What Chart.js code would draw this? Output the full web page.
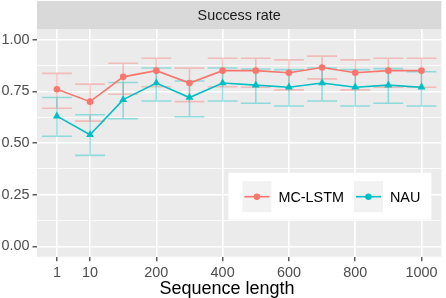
<!DOCTYPE html>
<html lang="en">
<head>
    <meta charset="UTF-8">
    <title>Success rate</title>
    <script src="https://cdn.jsdelivr.net/npm/chart.js"></script>
    <style>body { margin: 0; background: #fff; }</style>
</head>
<body>
    <canvas id="successChart" width="446" height="298"></canvas>
    <script>
        // sequence lengths (discrete x positions) and the ones that get a tick label
        const seqLengths = ['1', '10', '100', '200', '300', '400', '500', '600', '700', '800', '900', '1000'];
        const xTickLabels = ['1', '10', '200', '400', '600', '800', '1000'];
        const yTicks = [0, 0.125, 0.25, 0.375, 0.5, 0.625, 0.75, 0.875, 1];

        const mcMean = [0.76, 0.70, 0.82, 0.85, 0.79, 0.85, 0.85, 0.84, 0.865, 0.84, 0.85, 0.85];
        const mcLow  = [0.668, 0.606, 0.736, 0.772, 0.70, 0.772, 0.77, 0.757, 0.81, 0.757, 0.77, 0.77];
        const mcHigh = [0.837, 0.785, 0.886, 0.91, 0.862, 0.91, 0.91, 0.902, 0.92, 0.902, 0.91, 0.91];

        const nauMean = [0.63, 0.54, 0.71, 0.79, 0.72, 0.79, 0.78, 0.77, 0.79, 0.77, 0.78, 0.77];
        const nauLow  = [0.533, 0.44, 0.617, 0.703, 0.627, 0.703, 0.692, 0.679, 0.703, 0.679, 0.692, 0.679];
        const nauHigh = [0.72, 0.637, 0.793, 0.863, 0.80, 0.863, 0.858, 0.855, 0.863, 0.855, 0.86, 0.845];

        const FONT = '"Liberation Sans", Arial, sans-serif';
        const toPoints = values => values.map((v, i) => ({ x: i, y: v }));
        const isMajor = v => Math.abs(v * 4 - Math.round(v * 4)) < 1e-6;

        // grey panel + facet strip, like ggplot
        const ggplotPanel = {
            id: 'ggplotPanel',
            beforeDraw(chart) {
                const { ctx, chartArea: a } = chart;
                ctx.save();
                ctx.fillStyle = '#fff';
                ctx.fillRect(0, 0, chart.width, chart.height);
                ctx.fillStyle = '#EBEBEB';
                ctx.fillRect(a.left, a.top, a.right - a.left, a.bottom - a.top);
                ctx.fillStyle = '#D9D9D9';
                ctx.fillRect(a.left, 1, a.right - a.left, a.top - 1);
                ctx.fillStyle = '#1A1A1A';
                ctx.font = '14.4px ' + FONT;
                ctx.textAlign = 'center';
                ctx.textBaseline = 'middle';
                ctx.fillText('Success rate', (a.left + a.right) / 2, (1 + a.top) / 2 + 1);
                ctx.fillStyle = '#000';
                ctx.font = '18px ' + FONT;
                ctx.textBaseline = 'alphabetic';
                ctx.fillText('Sequence length', 227, 294);
                ctx.restore();
            }
        };

        const errorBars = {
            id: 'errorBars',
            beforeDatasetsDraw(chart) {
                const { ctx, scales: { x, y } } = chart;
                const half = x.getPixelForValue(0.45) - x.getPixelForValue(0);
                ctx.save();
                ctx.lineWidth = 1.6;
                chart.data.datasets.forEach(ds => {
                    ctx.strokeStyle = ds.errorColor;
                    ctx.beginPath();
                    ds.low.forEach((lo, i) => {
                        const px = x.getPixelForValue(i);
                        const yl = y.getPixelForValue(lo);
                        const yh = y.getPixelForValue(ds.high[i]);
                        ctx.moveTo(px - half, yh); ctx.lineTo(px + half, yh);
                        ctx.moveTo(px, yh); ctx.lineTo(px, yl);
                        ctx.moveTo(px - half, yl); ctx.lineTo(px + half, yl);
                    });
                    ctx.stroke();
                });
                ctx.restore();
            }
        };

        const insideLegend = {
            id: 'insideLegend',
            afterDraw(chart) {
                const { ctx, chartArea: a } = chart;
                const boxR = a.right - 10, boxB = a.bottom - 37;
                const boxL = boxR - 203, boxT = boxB - 47;
                ctx.save();
                ctx.fillStyle = '#fff';
                ctx.fillRect(boxL, boxT, boxR - boxL, boxB - boxT);
                ctx.font = '14.4px ' + FONT;
                ctx.textBaseline = 'middle';
                ctx.textAlign = 'left';
                const kw = 29, kh = 31, ky = boxT + 8.5;
                let kx = boxL + 14;
                chart.data.datasets.forEach(ds => {
                    ctx.fillStyle = '#F2F2F2';
                    ctx.fillRect(kx, ky, kw, kh);
                    ctx.strokeStyle = ds.borderColor;
                    ctx.lineWidth = 1.6;
                    ctx.beginPath();
                    ctx.moveTo(kx + 2, ky + kh / 2);
                    ctx.lineTo(kx + kw - 2, ky + kh / 2);
                    ctx.stroke();
                    ctx.fillStyle = ds.borderColor;
                    ctx.beginPath();
                    ctx.arc(kx + kw / 2, ky + kh / 2, 3.2, 0, Math.PI * 2);
                    ctx.fill();
                    ctx.fillStyle = '#000';
                    ctx.fillText(ds.label, kx + kw + 7, ky + kh / 2 + 1);
                    kx += kw + 7 + ctx.measureText(ds.label).width + 10;
                });
                ctx.restore();
            }
        };

        const ctx = document.getElementById('successChart').getContext('2d');
        new Chart(ctx, {
            type: 'line',
            data: {
                datasets: [{
                    label: 'MC-LSTM',
                    data: toPoints(mcMean),
                    low: mcLow,
                    high: mcHigh,
                    borderColor: '#F8766D',
                    backgroundColor: '#F8766D',
                    errorColor: 'rgba(248, 118, 109, 0.4)',
                    pointStyle: 'circle',
                    pointRadius: 3.3
                }, {
                    label: 'NAU',
                    data: toPoints(nauMean),
                    low: nauLow,
                    high: nauHigh,
                    borderColor: '#00BFC4',
                    backgroundColor: '#00BFC4',
                    errorColor: 'rgba(0, 191, 196, 0.4)',
                    pointStyle: 'triangle',
                    pointRadius: 4.6
                }]
            },
            options: {
                responsive: false,
                animation: false,
                layout: { padding: { top: 29.3, right: 1, left: 0, bottom: 0 } },
                elements: {
                    line: { borderWidth: 1.6, tension: 0 },
                    point: { borderWidth: 0, hoverRadius: 4 }
                },
                scales: {
                    x: {
                        type: 'linear',
                        min: -0.6,
                        max: seqLengths.length - 0.4,
                        afterBuildTicks: s => { s.ticks = xTickLabels.map(l => ({ value: seqLengths.indexOf(l) })); },
                        afterFit: s => { s.height = 41.3; },
                        border: { display: false },
                        grid: { color: '#fff', lineWidth: 1.6, tickColor: '#333', tickLength: 4.5, tickWidth: 1.2 },
                        ticks: {
                            padding: 3,
                            color: '#4D4D4D',
                            font: { size: 14.4, family: FONT },
                            maxRotation: 0,
                            autoSkip: false,
                            callback: v => seqLengths[v]
                        }
                    },
                    y: {
                        type: 'linear',
                        min: -0.05,
                        max: 1.05,
                        afterBuildTicks: s => { s.ticks = yTicks.map(v => ({ value: v })); },
                        afterFit: s => { s.width = 37; },
                        border: { display: false },
                        grid: {
                            color: '#fff',
                            lineWidth: c => (c.tick && isMajor(c.tick.value)) ? 1.6 : 0.8,
                            tickColor: c => (c.tick && isMajor(c.tick.value)) ? '#333' : 'rgba(0,0,0,0)',
                            tickLength: 4.5,
                            tickWidth: 1.2
                        },
                        ticks: {
                            padding: 3,
                            color: '#4D4D4D',
                            font: { size: 14.4, family: FONT },
                            callback: v => isMajor(v) ? v.toFixed(2) : ''
                        }
                    }
                },
                plugins: {
                    legend: { display: false },
                    tooltip: { enabled: false }
                }
            },
            plugins: [ggplotPanel, errorBars, insideLegend]
        });
    </script>
</body>
</html>
